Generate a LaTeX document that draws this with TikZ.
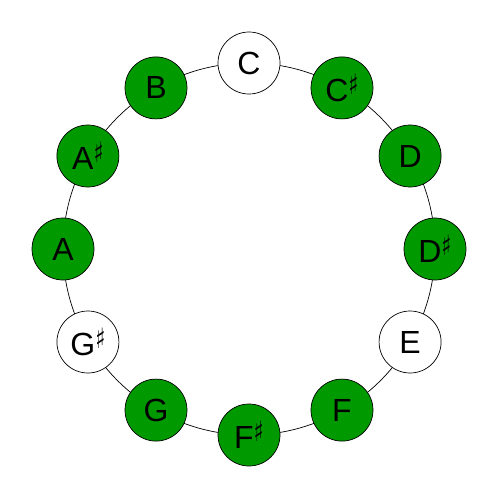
\documentclass[tikz,border=0pt]{standalone}
\usepackage{fontspec}
\usepackage{graphicx}
\setmainfont{Liberation Sans}
\newfontfamily\symfont{DejaVu Sans}
\definecolor{notegreen}{HTML}{009900}
\newcommand{\shp}{\raisebox{0.22em}{\scalebox{0.75}[1]{\fontsize{28}{28}\selectfont\symfont ♯}}}
\begin{document}
\begin{tikzpicture}[x=1pt,y=-1pt,
  note/.style={circle,draw=black,line width=0.7pt,minimum size=62pt,inner sep=0pt,font=\fontsize{32}{32}\selectfont},
  on/.style={note,fill=notegreen},
  off/.style={note,fill=white}]
\useasboundingbox (0,0) rectangle (498,498);
\coordinate (ctr) at (249,249);
\draw[line width=0.7pt] (ctr) circle[radius=186];
\foreach \i/\lab/\st in {0/C/off,1/C\shp/on,2/D/on,3/D\shp/on,4/E/off,5/F/on,6/F\shp/on,7/G/on,8/G\shp/off,9/A/on,10/A\shp/on,11/B/on}{
  \node[\st] (n\i) at ({249+186*sin(30*\i)},{249-186*cos(30*\i)}) {\lab};
}
\end{tikzpicture}
\end{document}
